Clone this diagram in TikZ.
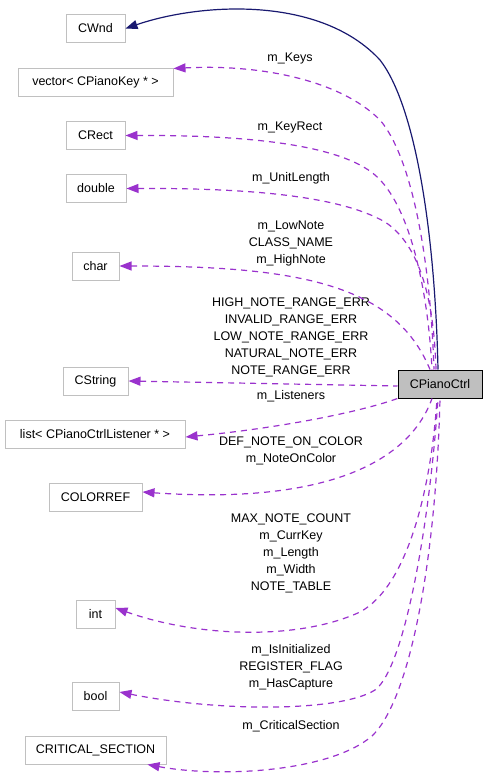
\documentclass[tikz,border=0pt]{standalone}
\usepackage{fontspec}
\setmainfont{Liberation Sans}
\usetikzlibrary{arrows.meta}
\definecolor{edgepurple}{HTML}{9A32CD}
\definecolor{edgenavy}{HTML}{191970}
\definecolor{boxgray}{HTML}{C0C0C0}
\definecolor{ctrlfill}{HTML}{BFBFBF}
\begin{document}
\begin{tikzpicture}[x=1pt,y=-1pt,
  every node/.style={font=\fontsize{12.5}{17}\selectfont},
  cls/.style={draw=boxgray, line width=1pt, minimum height=28pt, inner sep=0pt},
  mainbox/.style={draw=black, fill=ctrlfill, line width=1pt, minimum height=28pt, minimum width=84pt, inner sep=0pt},
  lbl/.style={align=center, inner sep=0pt},
  member/.style={draw=edgepurple, line width=1.2pt, dash pattern=on 6pt off 5pt, {Triangle[length=12pt,width=9pt]}-},
  inherit/.style={draw=edgenavy, line width=1.2pt, {Triangle[length=12pt,width=9pt]}-}]
\useasboundingbox (0,0) rectangle (488,782);
% class boxes
\node[cls, minimum width=59pt] (cwnd) at (95.5,28.5) {CWnd};
\node[cls, minimum width=155pt] (vec) at (95.5,82) {vector< CPianoKey * >};
\node[cls, minimum width=59pt] (rect) at (95.5,135.5) {CRect};
\node[cls, minimum width=60pt] (dbl) at (96,188.5) {double};
\node[cls, minimum width=47pt] (chr) at (95.5,266) {char};
\node[cls, minimum width=65pt] (cstr) at (95.5,381) {CString};
\node[cls, minimum width=180pt] (lst) at (95,434) {list< CPianoCtrlListener * >};
\node[cls, minimum width=93pt] (clr) at (95.5,497) {COLORREF};
\node[cls, minimum width=39pt] (int) at (95.5,614) {int};
\node[cls, minimum width=47pt] (bool) at (95.5,696) {bool};
\node[cls, minimum width=141pt] (crit) at (95.5,750) {CRITICAL\_SECTION};
\node[mainbox] (ctrl) at (440,384) {CPianoCtrl};
% labels
\node[lbl] (lkeys) at (290,58) {m\_Keys};
\node[lbl] (lrect) at (290,127) {m\_KeyRect};
\node[lbl] (lunit) at (291,178) {m\_UnitLength};
\node[lbl] (lchar) at (291,243) {m\_LowNote\\CLASS\_NAME\\m\_HighNote};
\node[lbl] (lstr) at (291,337.5) {HIGH\_NOTE\_RANGE\_ERR\\INVALID\_RANGE\_ERR\\LOW\_NOTE\_RANGE\_ERR\\NATURAL\_NOTE\_ERR\\NOTE\_RANGE\_ERR};
\node[lbl] (llst) at (291,396) {m\_Listeners};
\node[lbl] (lclr) at (291,451) {DEF\_NOTE\_ON\_COLOR\\m\_NoteOnColor};
\node[lbl] (lint) at (291,553.5) {MAX\_NOTE\_COUNT\\m\_CurrKey\\m\_Length\\m\_Width\\NOTE\_TABLE};
\node[lbl] (lbool) at (291,667) {m\_IsInitialized\\REGISTER\_FLAG\\m\_HasCapture};
\node[lbl] (lcrit) at (291,726) {m\_CriticalSection};
% edges
\draw[inherit] (cwnd.east) .. controls (200,3) and (320,-5) .. (380,60)
   .. controls (415,105) and (435,230) .. ([xshift=-2pt]ctrl.north);
\draw[member] ([yshift=-1pt]vec.north east) .. controls (260,64) and (340,80) .. (380,120)
   .. controls (410,155) and (430,250) .. ([xshift=-6pt]ctrl.north);
\draw[member] (rect.east) .. controls (250,135) and (340,145) .. (375,175)
   .. controls (410,205) and (428,290) .. ([xshift=-8pt]ctrl.north);
\draw[member] (dbl.east) .. controls (250,188) and (340,196) .. (385,222)
   .. controls (420,245) and (434,300) .. ([xshift=-4pt]ctrl.north);
\draw[member] (chr.east) .. controls (300,266) and (395,285) .. ([xshift=-10pt]ctrl.north);
\draw[member] (cstr.east) -- ([yshift=-2pt]ctrl.west);
\draw[member] ([yshift=-3pt]lst.east) .. controls (280,428) and (360,412) .. (ctrl.south west);
\draw[member] ([yshift=5pt]clr.east) .. controls (330,505) and (410,460) .. ([xshift=-8pt]ctrl.south);
\draw[member] ([yshift=6pt]int.east) .. controls (200,638) and (300,640) .. (360,612)
   .. controls (410,585) and (432,480) .. ([xshift=-3pt]ctrl.south);
\draw[member] ([yshift=4pt]bool.east) .. controls (220,712) and (340,712) .. (375,690)
   .. controls (405,668) and (430,520) .. ([xshift=-2pt]ctrl.south);
\draw[member] ([xshift=-19pt]crit.south east) .. controls (220,778) and (330,772) .. (372,736)
   .. controls (410,700) and (436,560) .. (ctrl.south);
\end{tikzpicture}
\end{document}
